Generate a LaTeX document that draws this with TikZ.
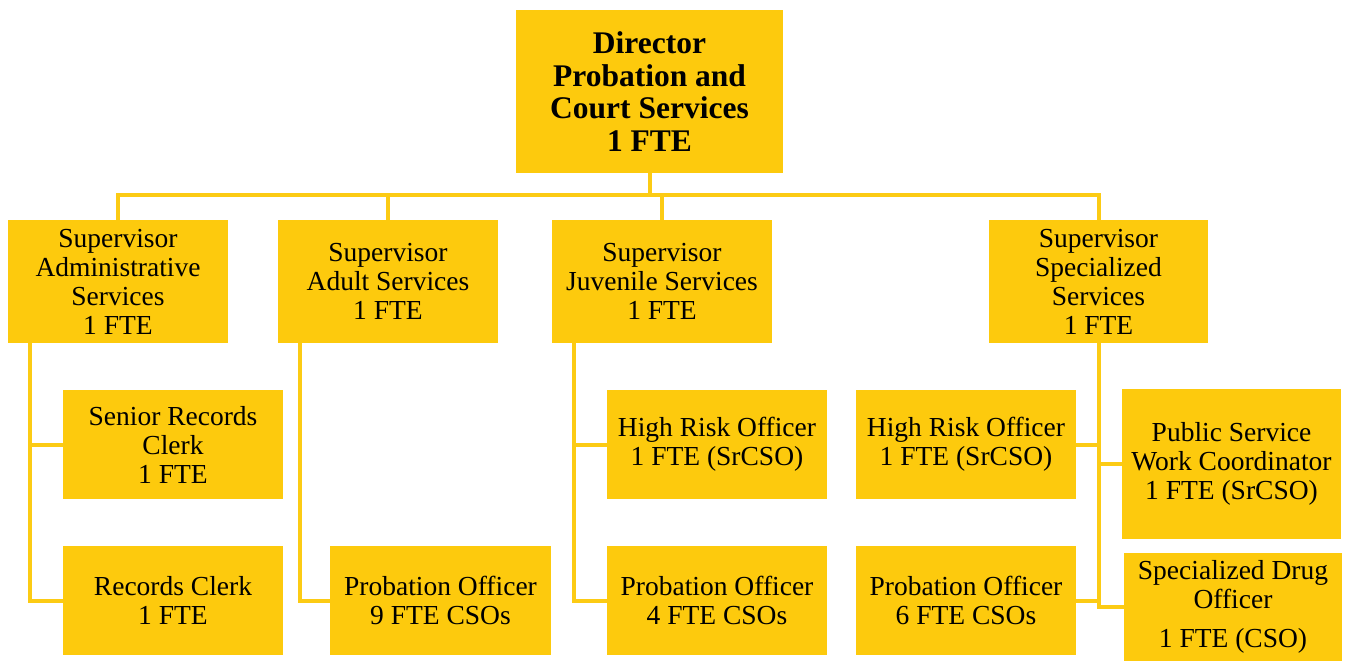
\documentclass[tikz,border=0pt]{standalone}
\usepackage{fontspec}
\setmainfont{Liberation Serif}
\definecolor{boxy}{HTML}{FDCA0D}
\definecolor{liney}{HTML}{FCCB14}
\begin{document}
\begin{tikzpicture}[x=1pt,y=-1pt,
  box/.style={fill=boxy,inner sep=0pt,align=center,font=\fontsize{27.5}{29}\selectfont},
  conn/.style={draw=liney,line width=4pt}]
\useasboundingbox (0,0) rectangle (1348,661);
\node[box,minimum width=267pt,minimum height=163pt,font=\fontsize{31.5}{32.5}\selectfont\bfseries] (dir) at (649.5,91.5) {Director\\Probation and\\Court Services\\1 FTE};
\node[box,minimum width=220pt,minimum height=123pt] (sa) at (118,281.5) {Supervisor\\Administrative\\Services\\1 FTE};
\node[box,minimum width=220pt,minimum height=123pt] (sad) at (388,281.5) {Supervisor\\Adult Services\\1 FTE};
\node[box,minimum width=220pt,minimum height=123pt] (sj) at (662,281.5) {Supervisor\\Juvenile Services\\1 FTE};
\node[box,minimum width=219pt,minimum height=123pt] (ss) at (1098.5,281.5) {Supervisor\\Specialized\\Services\\1 FTE};
\node[box,minimum width=220pt,minimum height=109pt] (src) at (173,444.5) {Senior Records\\Clerk\\1 FTE};
\node[box,minimum width=220pt,minimum height=109pt] (rc) at (173,600.5) {Records Clerk\\1 FTE};
\node[box,minimum width=221pt,minimum height=109pt] (po9) at (440.5,600.5) {Probation Officer\\9 FTE CSOs};
\node[box,minimum width=220pt,minimum height=109pt] (hr1) at (717,444.5) {High Risk Officer\\1 FTE (SrCSO)};
\node[box,minimum width=220pt,minimum height=109pt] (po4) at (717,600.5) {Probation Officer\\4 FTE CSOs};
\node[box,minimum width=220pt,minimum height=109pt] (hr2) at (966,444.5) {High Risk Officer\\1 FTE (SrCSO)};
\node[box,minimum width=220pt,minimum height=109pt] (po6) at (966,600.5) {Probation Officer\\6 FTE CSOs};
\node[box,minimum width=219pt,minimum height=150pt] (ps) at (1231.5,464) {Public Service\\Work Coordinator\\1 FTE (SrCSO)};
\node[box,minimum width=218pt,minimum height=108pt] (drug) at (1233,607) {Specialized Drug\\Officer\\[10pt]1 FTE (CSO)};
% top connectors
\draw[conn] (dir.south) -- ++(0,23);
\draw[conn] (sa.north) -- ++(0,-25) -| (ss.north);
\draw[conn] (sad.north) -- ++(0,-25);
\draw[conn] (sj.north) -- ++(0,-25);
% admin
\draw[conn] ([xshift=-88pt]sa.south) |- (src.west);
\draw[conn] ([xshift=-88pt]sa.south) |- (rc.west);
% adult
\draw[conn] ([xshift=-88pt]sad.south) |- (po9.west);
% juvenile
\draw[conn] ([xshift=-88pt]sj.south) |- (hr1.west);
\draw[conn] ([xshift=-88pt]sj.south) |- (po4.west);
% specialized
\draw[conn] (ss.south) |- (hr2.east);
\draw[conn] (ss.south) |- (ps.west);
\draw[conn] (ss.south) |- (po6.east);
\draw[conn] (ss.south) |- (drug.west);
\end{tikzpicture}
\end{document}
